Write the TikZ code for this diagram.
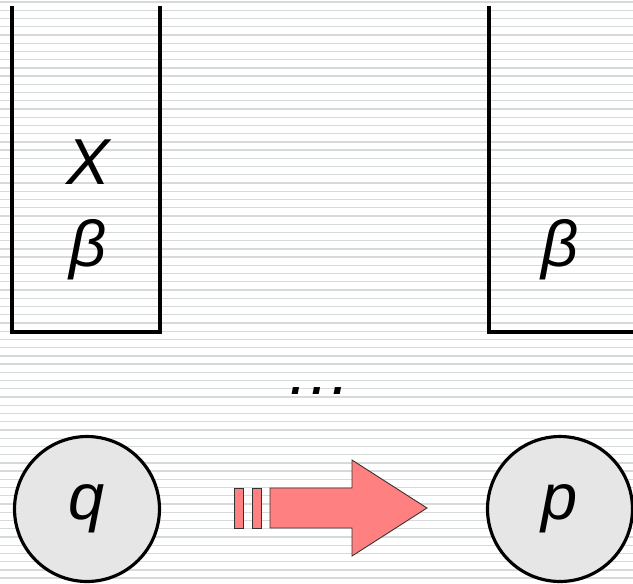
\documentclass[tikz,border=0pt]{standalone}
\usepackage{fontspec}
\setmainfont{Liberation Sans}
\definecolor{stripegray}{HTML}{D6DBD9}
\definecolor{stategray}{HTML}{E6E6E6}
\definecolor{arrowred}{HTML}{FF8080}
\tikzset{
  stripe/.style={stripegray, line width=0.75pt},
  stack/.style={line width=1.8pt, line cap=rect},
  state/.style={circle, draw=black, line width=1.8pt, fill=stategray, minimum size=2.9cm, inner sep=0pt, font=\fontsize{37}{40}\selectfont\itshape},
  sym/.style={inner sep=0pt, font=\fontsize{37}{40}\selectfont\itshape},
  move/.style={draw=black!80, line width=0.5pt, fill=arrowred}
}
\begin{document}
\begin{tikzpicture}[x=0.02cm, y=-0.02cm]
			\useasboundingbox (0,0) rectangle (633,583);
			% background lines
			\foreach \i in {0,...,70}
				\draw[stripe] (0,2+8.23*\i) -- (633,2+8.23*\i);
			% stacks
			\draw[stack] (12,8) -- (12,332) -- (160,332) -- (160,8);
			\draw[stack] (489,8) -- (489,332) -- (640,332);
			\node[sym](x1) at (88,162){X};
			\node[sym](b1) at (88,250){β};
			\node[sym](b2) at (560,250){β};
			\node[sym](dots) at (320,391){.\kern1.7pt.\kern1.7pt.};
			% states
			\node[state](q) at (87,509){q};
			\node[state](p) at (560,509){p};
			% transition arrow
			\draw[move] (234,488) rectangle (243,528);
			\draw[move] (252,488) rectangle (261,528);
			\draw[move] (270,488) -- (352,488) -- (352,460) -- (427,508) -- (352,556) -- (352,528) -- (270,528) -- cycle;
			\end{tikzpicture}
\end{document}
